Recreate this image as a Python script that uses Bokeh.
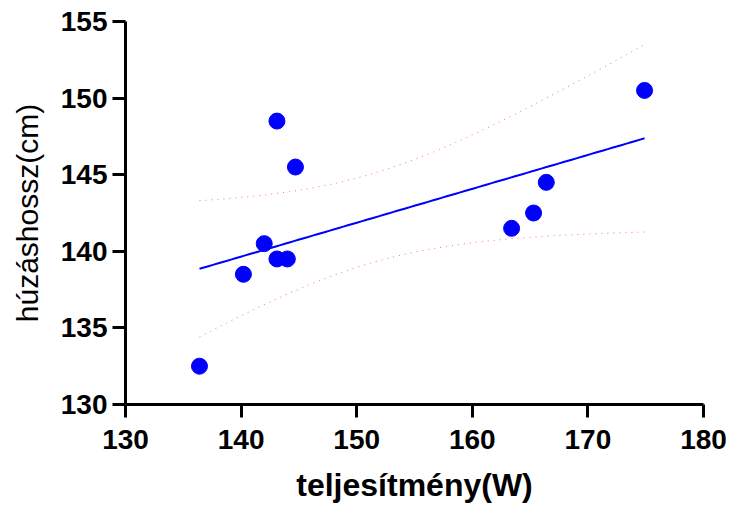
import numpy as np
from bokeh.plotting import figure
from bokeh.models import Range1d, FixedTicker
from bokeh.embed import file_html
from bokeh.resources import INLINE

# data
power_w = [136.4, 140.2, 142.0, 143.1, 144.0, 143.1, 144.7, 163.4, 165.3, 166.4, 174.9]
length_cm = [132.5, 138.5, 140.5, 139.5, 139.5, 148.5, 145.5, 141.5, 142.5, 144.5, 150.5]
x_ticks = [130, 140, 150, 160, 170, 180]
y_ticks = [130, 135, 140, 145, 150, 155]

# linear regression with 95% confidence band of the mean
x = np.array(power_w)
y = np.array(length_cm)
n = len(x)
slope, intercept = np.polyfit(x, y, 1)
xf = np.linspace(x.min(), x.max(), 100)
yf = intercept + slope * xf
resid = y - (intercept + slope * x)
s = np.sqrt(np.sum(resid ** 2) / (n - 2))
sxx = np.sum((x - x.mean()) ** 2)
t_crit = 2.262  # t(0.975, df=9)
half = t_crit * s * np.sqrt(1.0 / n + (xf - x.mean()) ** 2 / sxx)

p = figure(width=729, height=506, output_backend="svg", toolbar_location=None,
           x_range=Range1d(130, 180), y_range=Range1d(130, 155),
           min_border_left=125, min_border_right=26, min_border_top=21, min_border_bottom=102)
p.outline_line_color = None
p.xgrid.visible = False
p.ygrid.visible = False
p.background_fill_color = "white"
p.border_fill_color = "white"

p.line(xf, yf + half, line_color="#ff6f6f", line_width=1, line_dash="1 5")
p.line(xf, yf - half, line_color="#ff6f6f", line_width=1, line_dash="1 5")
p.line(xf, yf, line_color="#0000ff", line_width=2)
p.scatter(power_w, length_cm, size=16, marker="circle", fill_color="#0000ff", line_color="#0000ff")

for ax, ticks in ((p.xaxis, x_ticks), (p.yaxis, y_ticks)):
    ax.ticker = FixedTicker(ticks=ticks)
    ax.axis_line_width = 3
    ax.axis_line_color = "black"
    ax.major_tick_line_width = 3
    ax.major_tick_line_color = "black"
    ax.major_tick_out = 13
    ax.major_tick_in = 0
    ax.minor_tick_line_color = None
    ax.major_label_text_font = "Liberation Sans"
    ax.major_label_text_font_style = "bold"
    ax.major_label_text_font_size = "28px"
    ax.major_label_text_color = "black"
    ax.axis_label_text_font = "Liberation Sans"
    ax.axis_label_text_font_size = "30px"
    ax.axis_label_text_color = "black"

p.xaxis.axis_label = "teljesítmény(W)"
p.xaxis.axis_label_text_font_style = "bold"
p.xaxis.axis_label_text_font_size = "32px"
p.xaxis.major_label_standoff = 12
p.xaxis.axis_label_standoff = 15
p.yaxis.axis_label = "húzáshossz(cm)"
p.yaxis.axis_label_text_font_style = "normal"
p.yaxis.major_label_standoff = 5
p.yaxis.axis_label_standoff = 14

open("out.html", "w").write(file_html(p, INLINE))
